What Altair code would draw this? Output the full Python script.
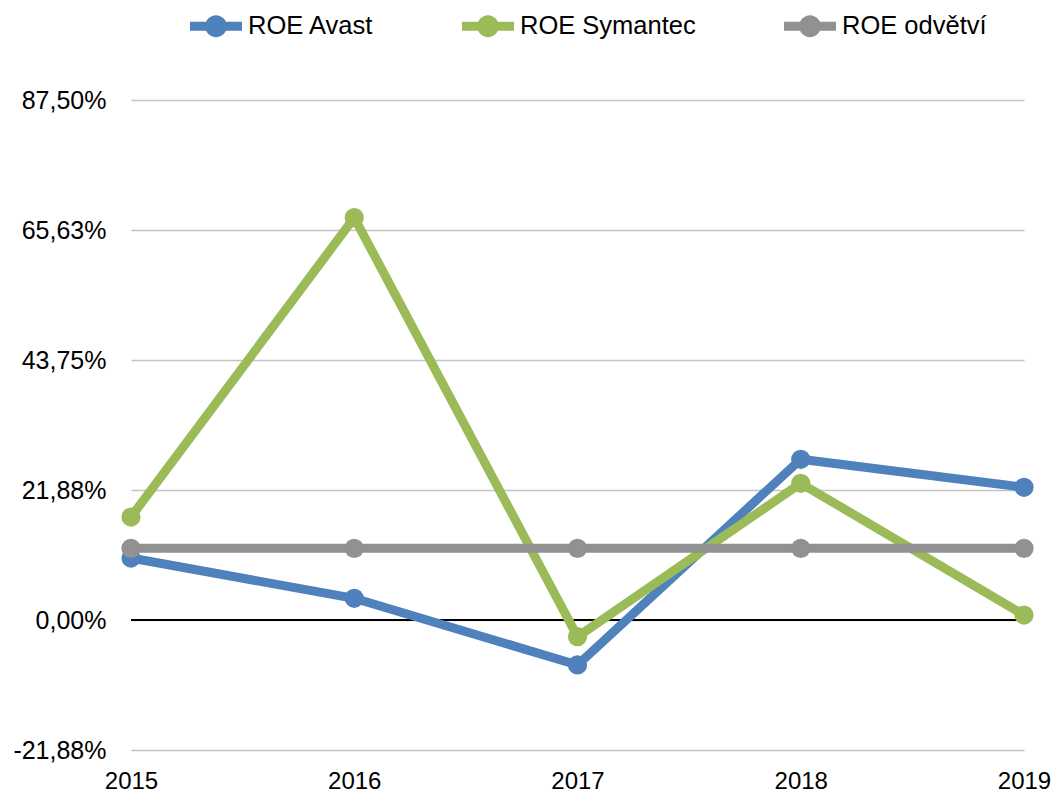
import math
import altair as alt
import pandas as pd

years = ["2015", "2016", "2017", "2018", "2019"]
roe_avast = [10.43, 3.65, -7.57, 27.04, 22.33]
roe_symantec = [17.33, 67.70, -2.81, 23.00, 0.84]
roe_odvetvi = [12.06, 12.06, 12.06, 12.06, 12.06]

series_names = ["ROE Avast", "ROE Symantec", "ROE odvětví"]
series_colors = ["#4F81BD", "#9BBB59", "#919191"]

tick_values = [-21.875, 0, 21.875, 43.75, 65.625, 87.5]
tick_labels = ["-21,88%", "0,00%", "21,88%", "43,75%", "65,63%", "87,50%"]

rows = []
for name, vals in zip(series_names, [roe_avast, roe_symantec, roe_odvetvi]):
    for y, v in zip(years, vals):
        rows.append({"series": name, "year": y, "value": v})
df = pd.DataFrame(rows)

FONT = "Liberation Sans"

label_expr = "[" + ",".join("'%s'" % t for t in tick_labels) + "][indexof([" + \
    ",".join(str(v) for v in tick_values) + "], datum.value)]"

# legend glyph: a thick line with a circle in the middle (unit coordinates)
circ = " ".join(
    ("M" if i == 0 else "L") + "%.3f,%.3f" % (0.42 * math.sin(2 * math.pi * i / 32),
                                            -0.42 * math.cos(2 * math.pi * i / 32))
    for i in range(32)
) + " Z"
legend_symbol = "M-1,-0.17 L1,-0.17 L1,0.17 L-1,0.17 Z " + circ

legend = alt.Legend(
    orient="none", legendX=59, legendY=-100, direction="horizontal",
    title=None, symbolType=legend_symbol, symbolSize=2704,
    symbolStrokeWidth=0, symbolOpacity=1, labelFont=FONT, labelFontSize=25.5,
    labelColor="#000000", labelOffset=6, columnPadding=88, labelLimit=400,
    columns=3,
)

scale = alt.Scale(domain=series_names, range=series_colors)
fill_enc = alt.Fill("series:N", scale=scale, legend=legend)

x_enc = alt.X("year:O", sort=years, scale=alt.Scale(type="point", padding=0),
              axis=alt.Axis(title=None, labelAngle=0, domain=False, ticks=False, grid=False,
                            labelFont=FONT, labelFontSize=24, labelColor="#000000",
                            labelPadding=19))
y_enc = alt.Y("value:Q", scale=alt.Scale(domain=[-21.875, 87.5], nice=False, zero=False),
              axis=alt.Axis(title=None, values=tick_values, labelExpr=label_expr,
                            domain=False, ticks=False, grid=True, gridColor="#C4C4C4",
                            gridWidth=1.3, labelFont=FONT, labelFontSize=25,
                            labelColor="#000000", labelPadding=25))

base = alt.Chart(df)

zero_rule = alt.Chart(pd.DataFrame({"z": [0]})).mark_rule(color="#000000", strokeWidth=2).encode(
    y=alt.Y("z:Q", scale=alt.Scale(domain=[-21.875, 87.5], nice=False, zero=False))
)

layers = [zero_rule]
for name, col in zip(series_names, series_colors):
    sub = base.transform_filter(alt.datum.series == name)
    layers.append(sub.mark_line(strokeWidth=9, strokeCap="round", strokeJoin="round",
                                color=col).encode(x=x_enc, y=y_enc))
    layers.append(sub.mark_point(filled=True, size=370, opacity=1, shape="circle",
                                 strokeWidth=0).encode(
        x=x_enc, y=y_enc, fill=fill_enc))

chart = alt.layer(*layers).properties(
    width=893, height=650,
    autosize="none",
    padding={"left": 123, "top": 92, "right": 27, "bottom": 44},
).configure(background="white").configure_view(stroke=None)

chart.save("out.html", embed_options={"renderer": "svg", "actions": False})
